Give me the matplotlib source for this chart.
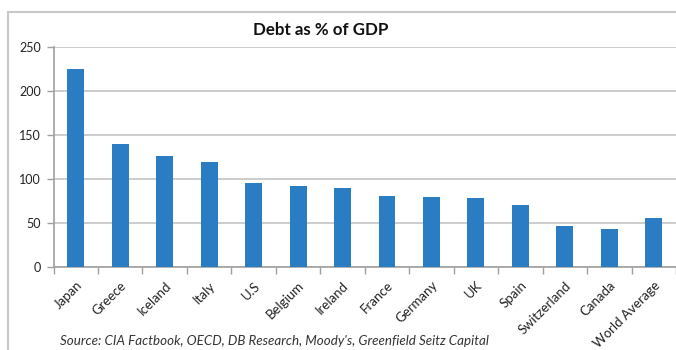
import numpy as np
import matplotlib
matplotlib.use('Agg')
import matplotlib.pyplot as plt
from matplotlib.patches import Rectangle

# data
countries = ['Japan', 'Greece', 'Iceland', 'Italy', 'U.S', 'Belgium', 'Ireland',
             'France', 'Germany', 'UK', 'Spain', 'Switzerland', 'Canada', 'World Average']
debt = [225, 139, 126, 119, 95, 92, 89, 80, 79, 78, 70, 46, 43, 55]
yticks = [0, 50, 100, 150, 200, 250]

plt.rcParams['font.family'] = ['Lato', 'DejaVu Sans']

fig = plt.figure(figsize=(6.76, 3.5), dpi=100)
ax = fig.add_axes([53.5/676, 1 - 266.7/350, 1 - 53.5/676, (266.7 - 46.7)/350])

x = np.arange(len(countries))
ax.bar(x, debt, width=0.38, color='#2a7dc2', zorder=3)

ax.set_xlim(-0.5, -0.5 + (676 - 53.5)/45)
ax.set_ylim(0, 250)
ax.set_yticks(yticks)
ax.yaxis.grid(True, color='#c4c4c4', linewidth=1.2, zorder=0)

# labels at bar centres, tick marks at category boundaries
ax.set_xticks(x)
ax.set_xticklabels(countries, rotation=45, ha='right', rotation_mode='anchor',
                   fontsize=9.5, color='#222222')
ax.tick_params(axis='x', which='major', length=0, pad=9)
ax.set_xticks(np.arange(len(countries) + 1) - 0.5, minor=True)
ax.tick_params(axis='x', which='minor', length=5, color='#a0a0a0', width=1)
ax.tick_params(axis='y', length=5, color='#a0a0a0', width=1, labelsize=9,
               labelcolor='#222222', pad=4)

for s in ['top', 'right']:
    ax.spines[s].set_visible(False)
for s in ['left', 'bottom']:
    ax.spines[s].set_color('#a0a0a0')
    ax.spines[s].set_linewidth(1.2)

fig.text(321/676, 1 - 30/350, 'Debt as % of GDP', ha='center', va='center',
         fontsize=12.2, fontweight='bold', color='#111111')
fig.text(60/676, 1 - 341/350,
         "Source: CIA Factbook, OECD, DB Research, Moody's, Greenfield Seitz Capital",
         ha='left', va='center', fontsize=9.6, style='italic', color='#333333')

# chart-area frame
fig.patches.append(Rectangle((8/676, -0.1), 1.0, 1.1 - 12/350,
                             transform=fig.transFigure, fill=False,
                             edgecolor='#c8c8c8', linewidth=1.5))

fig.savefig('out.png', dpi=100)
